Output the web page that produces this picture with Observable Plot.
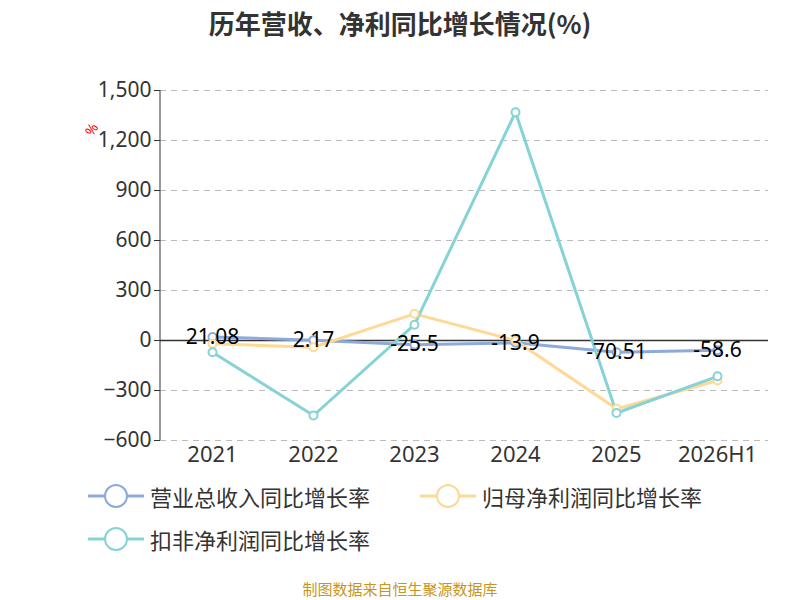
<!DOCTYPE html><html><head><meta charset="utf-8">
<script src="https://cdn.jsdelivr.net/npm/d3@7"></script>
<script src="https://cdn.jsdelivr.net/npm/@observablehq/plot@0.6"></script>
<style>body{margin:0;font-family:"Noto Sans CJK SC","Noto Sans",sans-serif;}
#wrap{position:relative;width:800px;height:600px;}
.t{position:absolute;width:800px;text-align:center;}
.leg{position:absolute;font-size:22px;color:#333;display:flex;align-items:center;}
.leg svg{margin-right:6px;}
</style></head><body><div id="wrap">
<div class="t" style="top:4px;font-size:26px;font-weight:bold;color:#333">历年营收、净利同比增长情况(%)</div>
<div class="t" style="top:578px;font-size:15px;color:#c8961e">制图数据来自恒生聚源数据库</div>
</div>
<script>
const years=["2021","2022","2023","2024","2025","2026H1"];
const revenue=[21.08,2.17,-25.5,-13.9,-70.51,-58.6];
const netProfit=[-20,-40,160,0,-410,-240];
const deductedProfit=[-70,-450,95,1370,-435,-215];
const yTicks=[-600,-300,0,300,600,900,1200,1500];
const seriesNames=["营业总收入同比增长率","归母净利润同比增长率","扣非净利润同比增长率"];
const colors=["#8eaadb","#fdd995","#85d3d6"];
const rows=[];
[revenue,netProfit,deductedProfit].forEach((arr,i)=>arr.forEach((v,j)=>rows.push({s:seriesNames[i],year:years[j],v})));
const rev=rows.filter(d=>d.s===seriesNames[0]);
const chart=Plot.plot({width:800,height:600,marginTop:90,marginBottom:160,marginLeft:160,marginRight:32,
 style:{fontFamily:"Noto Sans, sans-serif",color:"#333"},
 x:{type:"point",domain:years,padding:0.5,label:null},
 y:{domain:[-600,1500],ticks:yTicks,label:null,tickFormat:d3.format(",")},
 color:{domain:seriesNames,range:colors},
 marks:[
  Plot.gridY(yTicks.filter(d=>d!==0),{stroke:"#bbb",strokeOpacity:1,strokeDasharray:"6,5"}),
  Plot.axisY({ticks:yTicks,tickFormat:d3.format(","),fontSize:21,tickSize:6,tickPadding:3}),
  Plot.axisX({fontSize:22,tickSize:0,tickPadding:6}),
  Plot.ruleY([0],{stroke:"#333",strokeWidth:1.5}),
  Plot.line(rows,{x:"year",y:"v",stroke:"s",strokeWidth:3}),
  Plot.dot(rows,{x:"year",y:"v",stroke:"s",fill:"white",r:4,strokeWidth:2}),
  Plot.text(rev,{x:"year",y:"v",text:d=>String(d.v),fontSize:21,fill:"black"})
 ]});
chart.style.position="absolute";chart.style.left="0";chart.style.top="0";
const wrap=document.getElementById("wrap");
wrap.prepend(chart);
const yl=document.createElementNS("http://www.w3.org/2000/svg","line");
yl.setAttribute("x1",160);yl.setAttribute("x2",160);yl.setAttribute("y1",90);yl.setAttribute("y2",440);yl.setAttribute("stroke","#333");
chart.appendChild(yl);
const pct=document.createElementNS("http://www.w3.org/2000/svg","text");
pct.setAttribute("transform","translate(96,132) rotate(-60)");pct.setAttribute("fill","red");pct.setAttribute("font-size","14");pct.textContent="%";
chart.appendChild(pct);
const pos=[[88,480],[420,480],[88,523]];
seriesNames.forEach((n,i)=>{const d=document.createElement("div");d.className="leg";d.style.left=pos[i][0]+"px";d.style.top=pos[i][1]+"px";
d.innerHTML=`<svg width="56" height="28"><line x1="0" y1="14" x2="56" y2="14" stroke="${colors[i]}" stroke-width="3"/><circle cx="28" cy="14" r="11" fill="white" stroke="${colors[i]}" stroke-width="2"/></svg>${n}`;wrap.appendChild(d);});
</script></body></html>
